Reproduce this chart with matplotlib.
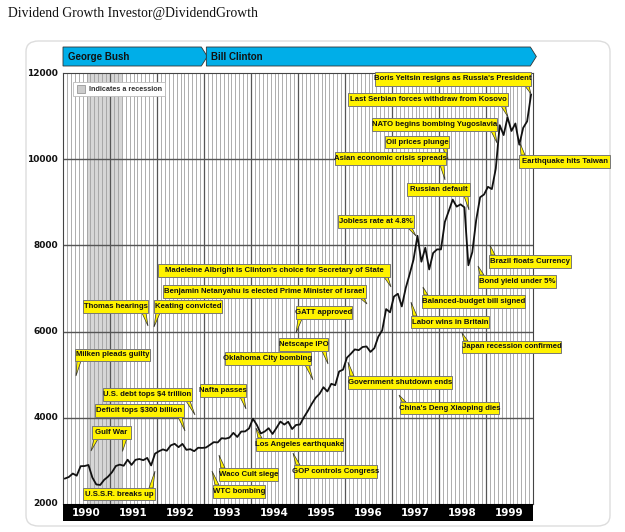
import numpy as np
import matplotlib
matplotlib.use("Agg")
import matplotlib.pyplot as plt
from matplotlib.patches import Polygon, Rectangle, FancyBboxPatch

# ---- data (monthly Dow Jones Industrial Average) ----
dow_1990 = [2591, 2627, 2707, 2657, 2877, 2881, 2905, 2614, 2453, 2442, 2560, 2634]
dow_1991 = [2736, 2882, 2914, 2888, 3028, 2907, 3025, 3044, 3017, 3069, 2895, 3169]
dow_1992 = [3224, 3267, 3236, 3359, 3397, 3319, 3394, 3257, 3272, 3226, 3305, 3301]
dow_1993 = [3310, 3371, 3435, 3428, 3527, 3516, 3540, 3651, 3555, 3681, 3684, 3754]
dow_1994 = [3978, 3832, 3636, 3682, 3758, 3625, 3765, 3913, 3843, 3908, 3739, 3834]
dow_1995 = [3844, 4011, 4158, 4321, 4465, 4556, 4709, 4611, 4789, 4756, 5075, 5117]
dow_1996 = [5395, 5486, 5587, 5569, 5643, 5655, 5529, 5616, 5882, 6029, 6522, 6448]
dow_1997 = [6813, 6878, 6584, 7009, 7331, 7673, 8223, 7622, 7945, 7442, 7823, 7908]
dow_1998 = [7907, 8546, 8800, 9063, 8900, 8952, 8883, 7539, 7843, 8592, 9117, 9181]
dow_1999 = [9359, 9307, 9786, 10789, 10560, 10971, 10655, 10829, 10337, 10729, 10878, 11497]

years = [1990, 1991, 1992, 1993, 1994, 1995, 1996, 1997, 1998, 1999]
year_labels = [str(y) for y in years]
y_ticks = [2000, 4000, 6000, 8000, 10000, 12000]
recession = (1990.5, 1991.25)
presidents = [("George Bush", 1990.0, 1993.05), ("Bill Clinton", 1993.05, 2000.05)]

dow = dow_1990 + dow_1991 + dow_1992 + dow_1993 + dow_1994 + dow_1995 + \
      dow_1996 + dow_1997 + dow_1998 + dow_1999
t = 1990 + (np.arange(len(dow)) + 0.5) / 12.0

# callouts: text, box (left, top, right, bottom) in px, tails [(base_x, tip_x, tip_y)]
callouts = [
    ("Boris Yeltsin resigns as Russia's President", (375, 72, 531, 86), [(529, 531, 94)]),
    ("Last Serbian forces withdraw from Kosovo", (348, 93, 508, 106), [(505, 508, 117)]),
    ("NATO begins bombing Yugoslavia", (372, 118, 497, 131), [(495, 497, 143)]),
    ("Oil prices plunge", (385, 136, 449, 148), [(447, 448, 160)]),
    ("Asian economic crisis spreads", (335, 152, 446, 165), [(444, 445, 180)]),
    ("Russian default", (407, 183, 470, 196), [(468, 469, 210)]),
    ("Earthquake hits Taiwan", (519, 155, 610, 168), [(521, 520, 143)]),
    ("Jobless rate at 4.8%", (338, 215, 414, 228), [(412, 416, 236)]),
    ("Brazil floats Currency", (489, 255, 571, 268), [(491, 490, 245)]),
    ("Bond yield under 5%", (478, 275, 556, 288), [(480, 478, 266)]),
    ("Balanced-budget bill signed", (422, 295, 525, 308), [(424, 423, 287)]),
    ("Labor wins in Britain", (411, 316, 489, 328), [(413, 411, 302)]),
    ("Japan recession confirmed", (462, 341, 561, 353), [(464, 462, 333)]),
    ("Madeleine Albright is Clinton's choice for Secretary of State", (158, 264, 390, 277), [(388, 391, 287)]),
    ("Benjamin Netanyahu is elected Prime Minister of Israel", (163, 285, 366, 298), [(364, 367, 304)]),
    ("Thomas hearings", (83, 300, 148, 313), [(146, 148, 326)]),
    ("Keating convicted", (154, 300, 222, 313), [(156, 154, 327)]),
    ("GATT approved", (296, 306, 352, 319), [(298, 296, 333)]),
    ("Netscape IPO", (279, 338, 328, 351), [(326, 328, 364)]),
    ("Oklahoma City bombing", (225, 352, 311, 365), [(309, 313, 380)]),
    ("Milken pleads guilty", (75, 349, 150, 361), [(77, 76, 376)]),
    ("Government shutdown ends", (348, 376, 452, 389), [(350, 348, 362)]),
    ("China's Deng Xiaoping dies", (400, 402, 499, 414), [(402, 399, 395)]),
    ("Nafta passes", (200, 384, 246, 397), [(244, 246, 409)]),
    ("U.S. debt tops $4 trillion", (103, 388, 192, 401), [(190, 195, 415)]),
    ("Deficit tops $300 billion", (95, 404, 184, 417), [(182, 185, 431)]),
    ("Gulf War", (92, 426, 131, 439), [(94, 91, 451), (126, 122, 451)]),
    ("U.S.S.R. breaks up", (83, 488, 155, 500), [(153, 155, 471)]),
    ("Los Angeles earthquake", (256, 438, 343, 451), [(258, 256, 428)]),
    ("Waco Cult siege", (219, 468, 278, 481), [(221, 219, 455)]),
    ("WTC bombing", (213, 485, 265, 498), [(215, 212, 471)]),
    ("GOP controls Congress", (294, 465, 377, 478), [(296, 293, 453)]),
]

W, H = 625, 532
fig = plt.figure(figsize=(W / 100, H / 100), dpi=100)
fig.patch.set_facecolor("white")


def fx(px):
    return px / W


def fy(py):
    return 1 - py / H


NARROW = ["Liberation Sans Narrow", "Liberation Sans", "DejaVu Sans"]

# outer rounded frame
fig.patches.append(FancyBboxPatch((fx(26), fy(526)), fx(610) - fx(26), fy(41) - fy(526),
                                  boxstyle="round,pad=0,rounding_size=0.02",
                                  transform=fig.transFigure, facecolor="white",
                                  edgecolor="#dddddd", lw=1.0, zorder=-5))

fig.text(fx(8), fy(14), "Dividend Growth Investor@DividendGrowth",
         family=["Liberation Serif", "DejaVu Serif"], fontsize=9.8,
         va="center", ha="left", color="#111111")

ax = fig.add_axes([fx(63), fy(504), fx(533) - fx(63), fy(73) - fy(504)])
ax.set_zorder(1)
ax.set_xlim(1990, 2000)
ax.set_ylim(2000, 12000)

# recession band
ax.axvspan(recession[0], recession[1], color="#d6d6d6", zorder=0, lw=0)

# monthly vertical grid
for m in range(1, 120):
    xv = 1990 + m / 12.0
    if m % 12 == 0:
        ax.axvline(xv, color="#555555", lw=0.9, zorder=1)
    else:
        ax.axvline(xv, color="#a0a0a0", lw=0.6, zorder=1)
for yv in [4000, 6000, 8000, 10000]:
    ax.axhline(yv, color="#555555", lw=1.0, zorder=1)

ax.plot(t, dow, color="#111111", lw=1.3, zorder=3)

ax.set_xticks([])
ax.set_yticks([])
for s in ax.spines.values():
    s.set_color("#444444")
    s.set_linewidth(0.8)

# y labels
for yv in y_ticks:
    py = 504 - (yv - 2000) * 431 / 10000
    fig.text(fx(58), fy(py), str(yv), ha="right", va="center", fontsize=6.5,
             fontweight="bold", color="#111111")

# black year band
band = fig.add_axes([fx(63), fy(521), fx(533) - fx(63), fy(504) - fy(521)])
band.set_zorder(1)
band.set_xlim(1990, 2000)
band.set_ylim(0, 1)
band.set_facecolor("black")
band.set_xticks([])
band.set_yticks([])
for s in band.spines.values():
    s.set_visible(False)
for y, lab in zip(years, year_labels):
    band.text(y + 0.5, 0.45, lab, color="white", ha="center", va="center",
              fontsize=7.5, fontweight="bold")

# presidency arrows
for name, x0, x1 in presidents:
    p0 = 63 + (x0 - 1990) * 47
    p1 = 63 + (x1 - 1990) * 47 - 5
    pts = [(p0, 47), (p1, 47), (p1 + 6, 56.5), (p1, 66), (p0, 66)]
    fig.patches.append(Polygon([(fx(a), fy(b)) for a, b in pts], closed=True,
                               transform=fig.transFigure, facecolor="#00aee8",
                               edgecolor="#333333", lw=0.6, zorder=2))
    fig.text(fx(p0 + 5), fy(57), name, ha="left", va="center", fontsize=7,
             fontweight="bold", color="#111111", family=NARROW)

# legend box
fig.patches.append(Rectangle((fx(73), fy(96)), fx(165) - fx(73), fy(82) - fy(96),
                             transform=fig.transFigure, facecolor="white",
                             edgecolor="#bbbbbb", lw=0.6, zorder=4))
fig.patches.append(Rectangle((fx(77), fy(93)), fx(85) - fx(77), fy(85) - fy(93),
                             transform=fig.transFigure, facecolor="#cccccc",
                             edgecolor="#888888", lw=0.5, zorder=5))
fig.text(fx(89), fy(89), "Indicates a recession", ha="left", va="center", fontsize=5.2,
         fontweight="bold", color="#333333", family=NARROW, zorder=6)

# callouts
YEL = "#fff200"
for text, (l, tp, r, b), tails in callouts:
    for bx, tx, ty in tails:
        sign = -1 if bx > (l + r) / 2 else 1
        edge = b if ty > b else tp
        pts = [(bx, edge), (bx + sign * 4, edge), (tx, ty)]
        fig.patches.append(Polygon([(fx(a), fy(c)) for a, c in pts], closed=True,
                                   transform=fig.transFigure, facecolor=YEL,
                                   edgecolor="#333333", lw=0.5, zorder=7))
    fig.patches.append(Rectangle((fx(l), fy(b)), fx(r) - fx(l), fy(tp) - fy(b),
                                 transform=fig.transFigure, facecolor=YEL,
                                 edgecolor="#777777", lw=0.7, zorder=8))
    fig.text(fx((l + r) / 2), fy((tp + b) / 2), text, ha="center", va="center",
             fontsize=5.6, fontweight="bold", color="#111111", family=NARROW, zorder=9)

fig.savefig("out.png", dpi=100, facecolor="white")
